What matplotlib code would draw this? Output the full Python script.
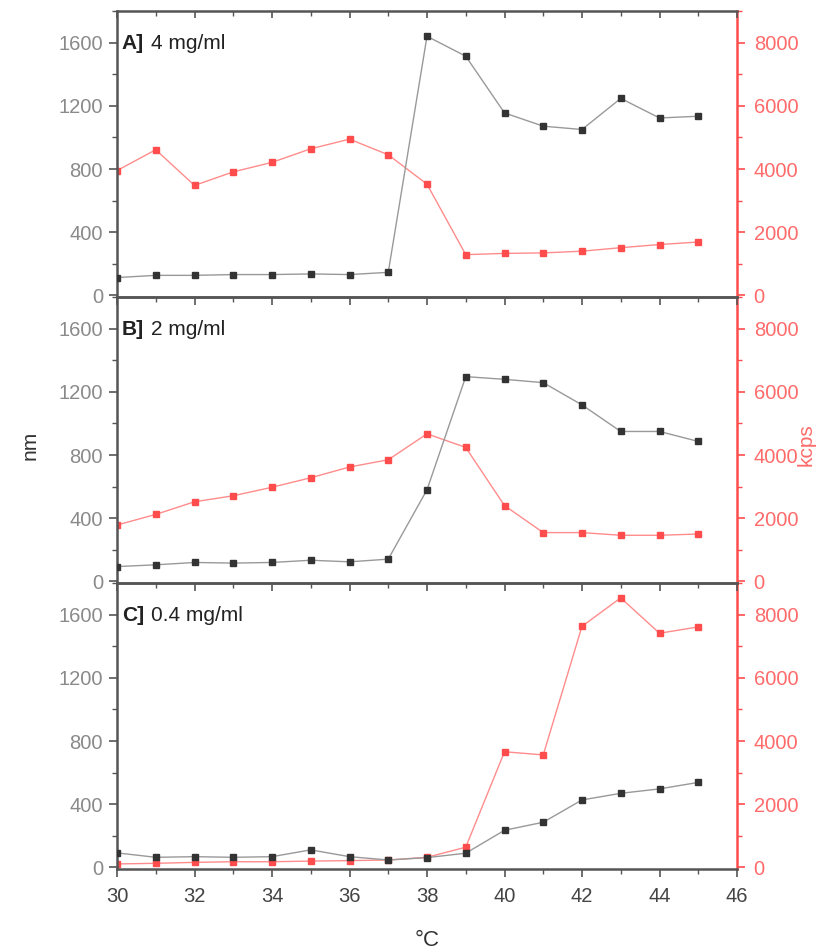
import matplotlib
matplotlib.use("Agg")
import matplotlib.pyplot as plt
from matplotlib.ticker import MultipleLocator

plt.rcParams['font.family'] = ['Liberation Sans', 'DejaVu Sans']

temps = [30, 31, 32, 33, 34, 35, 36, 37, 38, 39, 40, 41, 42, 43, 44, 45]

panel_labels = ["A]", "B]", "C]"]
panel_conc = ["4 mg/ml", "2 mg/ml", "0.4 mg/ml"]

size_A = [113, 127, 127, 132, 132, 136, 132, 146, 1640, 1514, 1155, 1071, 1050, 1247, 1123, 1134]
kcps_A = [3950, 4610, 3480, 3910, 4210, 4640, 4945, 4450, 3520, 1290, 1330, 1345, 1400, 1510, 1610, 1690]

size_B = [94, 105, 120, 116, 120, 134, 124, 141, 580, 1296, 1279, 1258, 1117, 949, 949, 886]
kcps_B = [1785, 2120, 2520, 2710, 2980, 3280, 3620, 3850, 4670, 4240, 2400, 1545, 1545, 1460, 1460, 1500]

size_C = [92, 64, 68, 64, 68, 111, 68, 47, 62, 90, 235, 286, 427, 469, 497, 538]
kcps_C = [110, 130, 160, 180, 180, 200, 215, 235, 320, 640, 3660, 3560, 7630, 8530, 7410, 7610]

sizes = [size_A, size_B, size_C]
kcps = [kcps_A, kcps_B, kcps_C]

W, H = 835, 952
fig = plt.figure(figsize=(W / 100, H / 100), dpi=100)

left = 117 / W
right = 737 / W
top_px = 11
bot_px = 869
ph = (bot_px - top_px) / 3

spine_dark = "#555555"
red = "#ff4d4d"
red_line = "#ff8c8c"
red_text = "#ff6b6b"
fs_tick = 14.5

for i in range(3):
    y0 = 1 - (top_px + (i + 1) * ph) / H
    ax = fig.add_axes([left, y0, right - left, ph / H])
    ax2 = ax.twinx()
    ax.set_zorder(ax2.get_zorder() + 1)
    ax.patch.set_visible(False)

    ax2.plot(temps, kcps[i], color=red_line, lw=1.0, marker='s', ms=4.2,
             mfc=red, mec=red, zorder=3)
    ax.plot(temps, sizes[i], color="#999999", lw=1.0, marker='s', ms=4.2,
            mfc="#333333", mec="#333333", zorder=4)

    ax.set_xlim(30, 46)
    ax.set_ylim(-10, 1800)
    ax2.set_ylim(-50, 9000)

    ax.xaxis.set_major_locator(MultipleLocator(2))
    ax.xaxis.set_minor_locator(MultipleLocator(1))
    ax.yaxis.set_major_locator(MultipleLocator(400))
    ax.yaxis.set_minor_locator(MultipleLocator(200))
    ax2.yaxis.set_major_locator(MultipleLocator(2000))
    ax2.yaxis.set_minor_locator(MultipleLocator(1000))

    for s in ['left', 'top', 'bottom']:
        ax.spines[s].set_color(spine_dark)
        ax.spines[s].set_linewidth(1.8)
    ax.spines['right'].set_visible(False)
    for s in ['left', 'top', 'bottom']:
        ax2.spines[s].set_visible(False)
    ax2.spines['right'].set_color(red)
    ax2.spines['right'].set_linewidth(1.8)

    ax.tick_params(axis='y', which='major', direction='out', length=6, width=1.2,
                   color=spine_dark, labelcolor="#8a8a8a", labelsize=fs_tick, pad=4)
    ax.tick_params(axis='y', which='minor', direction='out', length=3.5, width=1.0,
                   color=spine_dark)
    ax.tick_params(axis='x', which='major', direction='out', length=6, width=1.2,
                   color=spine_dark, labelcolor="#444444", labelsize=fs_tick, pad=7)
    ax.tick_params(axis='x', which='minor', direction='out', length=3.5, width=1.0,
                   color=spine_dark)
    ax2.tick_params(axis='y', which='major', direction='out', length=6, width=1.2,
                    color=red, labelcolor=red_text, labelsize=fs_tick, pad=6)
    ax2.tick_params(axis='y', which='minor', direction='out', length=3.5, width=1.0,
                    color=red)

    if i < 2:
        ax.tick_params(axis='x', labelbottom=False)
    if i == 0:
        sec = ax.secondary_xaxis('top')
        sec.xaxis.set_major_locator(MultipleLocator(2))
        sec.xaxis.set_minor_locator(MultipleLocator(1))
        sec.tick_params(axis='x', which='both', direction='in', labeltop=False,
                        color=spine_dark)
        sec.tick_params(axis='x', which='major', length=5, width=1.2)
        sec.tick_params(axis='x', which='minor', length=3.5, width=1.0)
        sec.spines['top'].set_visible(False)

    ax.text(0.008, 0.885, panel_labels[i], transform=ax.transAxes,
            fontsize=15, fontweight='bold', color="#222222", va='center', ha='left')
    ax.text(0.055, 0.885, panel_conc[i], transform=ax.transAxes,
            fontsize=15, color="#222222", va='center', ha='left')

    if i == 2:
        ax.set_xlabel("°C", fontsize=16, color="#333333", labelpad=17)

fig.text(30 / W, 1 - 445 / H, "nm", rotation=90, fontsize=15, color="#333333",
         ha='center', va='center')
fig.text(806 / W, 1 - 445 / H, "kcps", rotation=90, fontsize=15, color=red_text,
         ha='center', va='center')

fig.savefig("out.png", dpi=100)
